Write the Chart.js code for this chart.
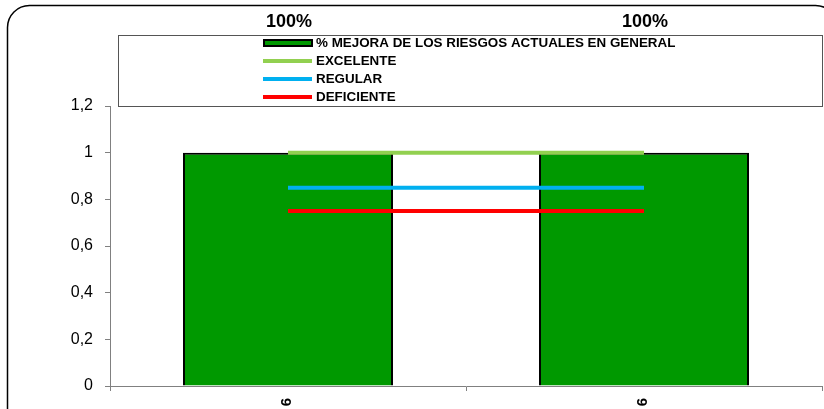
<!DOCTYPE html>
<html>
<head>
<meta charset="utf-8">
<script src="https://cdn.jsdelivr.net/npm/chart.js@4"></script>
<style>
  html, body { margin: 0; padding: 0; background: #fff; overflow: hidden; }
  canvas { display: block; }
</style>
</head>
<body>
<canvas id="myChart" width="824" height="409"></canvas>
<script>
const categories = ["6", "6"];
const seriesNames = [
  "% MEJORA DE LOS RIESGOS ACTUALES EN GENERAL",
  "EXCELENTE",
  "REGULAR",
  "DEFICIENTE",
];
const mejora = [1, 1];
const excelente = [1, 1];
const regular = [0.85, 0.85];
const deficiente = [0.75, 0.75];
const yMin = 0;
const yMax = 1.2;
const yStep = 0.2;

const FONT = "'Liberation Sans', Arial, sans-serif";

// frame, legend box, value labels and rotated category labels
const extras = {
  id: "extras",
  beforeDraw(chart) {
    const ctx = chart.ctx;
    ctx.save();
    ctx.fillStyle = "#fff";
    ctx.fillRect(0, 0, chart.width, chart.height);
    // rounded outer frame
    ctx.strokeStyle = "#000";
    ctx.lineWidth = 1.5;
    ctx.beginPath();
    ctx.roundRect(7.5, 5.5, 830, 440, 22);
    ctx.stroke();
    ctx.restore();
  },
  afterDraw(chart) {
    const ctx = chart.ctx;
    ctx.save();

    // legend box
    ctx.strokeStyle = "#555";
    ctx.lineWidth = 1;
    ctx.strokeRect(118.5, 35.5, 704, 71);
    const rows = [43, 61, 79, 97];
    chart.data.datasets.forEach((ds, i) => {
      const y = rows[i];
      if (ds.type === "bar") {
        ctx.fillStyle = ds.backgroundColor;
        ctx.fillRect(264, y - 3, 48, 6);
        ctx.strokeStyle = "#000";
        ctx.lineWidth = 2;
        ctx.strokeRect(264, y - 3, 48, 6);
      } else {
        ctx.strokeStyle = ds.borderColor;
        ctx.lineWidth = 4;
        ctx.beginPath();
        ctx.moveTo(263, y);
        ctx.lineTo(312, y);
        ctx.stroke();
      }
      ctx.fillStyle = "#000";
      ctx.font = "bold 13.4px " + FONT;
      ctx.textAlign = "left";
      ctx.textBaseline = "middle";
      ctx.fillText(ds.label, 316, y + 0.5);
    });

    // value labels above
    const meta = chart.getDatasetMeta(0);
    ctx.font = "bold 18px " + FONT;
    ctx.textAlign = "center";
    ctx.textBaseline = "middle";
    ctx.fillStyle = "#000";
    meta.data.forEach((bar, i) => {
      ctx.fillText(Math.round(mejora[i] * 100) + "%", bar.x + 1, 22.5);
    });

    // category labels, reading bottom to top
    const xScale = chart.scales.x;
    ctx.font = "bold 15px " + FONT;
    ctx.textAlign = "right";
    ctx.textBaseline = "middle";
    categories.forEach((c, i) => {
      const x = xScale.getPixelForTick(i);
      ctx.save();
      ctx.translate(x - 1, 398);
      ctx.rotate(-Math.PI / 2);
      ctx.fillText(c, 0, 0);
      ctx.restore();
    });
    ctx.restore();
  },
};

const ctx = document.getElementById("myChart");

const myChart = new Chart(ctx, {
  data: {
    labels: categories,
    datasets: [
      {
        type: "bar",
        label: seriesNames[0],
        data: mejora,
        backgroundColor: "#009900",
        borderColor: "#000",
        borderWidth: 2,
        barPercentage: 0.59,
        categoryPercentage: 1,
        order: 1,
      },
      {
        type: "line",
        label: seriesNames[1],
        data: excelente,
        borderColor: "#92D050",
        borderWidth: 4,
        pointRadius: 0,
        order: 0,
      },
      {
        type: "line",
        label: seriesNames[2],
        data: regular,
        borderColor: "#00B0F0",
        borderWidth: 4,
        pointRadius: 0,
        order: 0,
      },
      {
        type: "line",
        label: seriesNames[3],
        data: deficiente,
        borderColor: "#FF0000",
        borderWidth: 4,
        pointRadius: 0,
        order: 0,
      },
    ],
  },
  options: {
    responsive: false,
    animation: false,
    layout: { padding: { top: 106, right: 2, left: 0, bottom: 0 } },
    plugins: {
      legend: { display: false },
      tooltip: { enabled: false },
    },
    scales: {
      x: {
        offset: true,
        grid: {
          offset: true,
          drawOnChartArea: false,
          tickLength: 5,
          color: "#808080",
        },
        border: { color: "#808080", width: 1 },
        ticks: { display: false },
        afterFit(scale) {
          scale.height = 23;
        },
      },
      y: {
        min: yMin,
        max: yMax,
        grid: {
          drawOnChartArea: false,
          tickLength: 5,
          color: "#808080",
        },
        border: { color: "#808080", width: 1 },
        ticks: {
          stepSize: yStep,
          padding: 12,
          color: "#000",
          font: { family: FONT, size: 16 },
          callback: (v) => String(Math.round(v * 10) / 10).replace(".", ","),
        },
        afterFit(scale) {
          scale.width = 110;
        },
      },
    },
  },
  plugins: [extras],
});
</script>
</body>
</html>
